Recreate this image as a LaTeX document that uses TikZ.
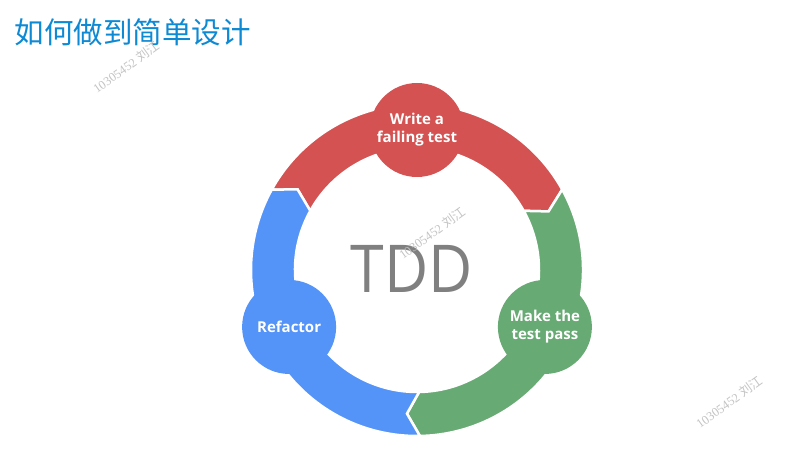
\documentclass[tikz,border=0pt]{standalone}
\usepackage{fontspec}
\setmainfont{Open Sans}
\newfontfamily\cjkfont{Noto Sans CJK SC}
\newfontfamily\wmfont{Liberation Serif}
\definecolor{tddred}{RGB}{212,82,82}
\definecolor{tddgreen}{RGB}{104,170,116}
\definecolor{tddblue}{RGB}{84,147,248}
\definecolor{tddgray}{RGB}{128,128,128}
\definecolor{titleblue}{RGB}{14,137,212}
\definecolor{wmgray}{RGB}{195,195,195}
\tikzset{
  segment/.style={draw=white, line width=2.5pt, line join=miter},
  stage/.style={circle, minimum size=94pt, inner sep=0pt, text=white,
    font=\bfseries\fontsize{15}{18}\selectfont, align=center},
  watermark/.style={text=wmgray, rotate=36, font=\wmfont\fontsize{12.5}{13}\selectfont, inner sep=0pt}
}
\begin{document}
\begin{tikzpicture}[x=1pt,y=1pt]
\useasboundingbox (0,0) rectangle (809,448);
\node[font=\cjkfont\fontsize{29.5}{32}\selectfont, text=titleblue] (title) at (133,416) {如何做到简单设计};
\begin{scope}[shift={(417,178)}]
\def\Ro{166}\def\Ri{122}\def\Rm{144}
% red: write failing test
\path[segment, fill=tddred] (151:\Ro) arc[start angle=151, end angle=29, radius=\Ro pt]
  -- (24:\Rm) -- (29:\Ri) arc[start angle=29, end angle=151, radius=\Ri pt] -- (146:\Rm) -- cycle;
% green: make the test pass
\path[segment, fill=tddgreen] (29:\Ro) arc[start angle=29, end angle=-89, radius=\Ro pt]
  -- (-94:\Rm) -- (-89:\Ri) arc[start angle=-89, end angle=29, radius=\Ri pt] -- (24:\Rm) -- cycle;
% blue: refactor
\path[segment, fill=tddblue] (271:\Ro) arc[start angle=271, end angle=151, radius=\Ro pt]
  -- (146:\Rm) -- (151:\Ri) arc[start angle=151, end angle=271, radius=\Ri pt] -- (266:\Rm) -- cycle;
\node[stage, fill=tddred] (write) at (90:140) {Write a\\failing test};
\node[stage, fill=tddgreen] (pass) at (-24:140) {Make the\\test pass};
\node[stage, fill=tddblue] (refactor) at (-156:140) {Refactor};
\end{scope}
\node[font=\fontsize{66}{66}\selectfont, text=tddgray, inner sep=0pt, xscale=0.92] (tdd) at (412,179) {TDD};
\node[watermark] (wm1) at (126,381) {10305452 {\cjkfont 刘江}};
\node[watermark] (wm2) at (432,215) {10305452 {\cjkfont 刘江}};
\node[watermark] (wm3) at (729,46) {10305452 {\cjkfont 刘江}};
\end{tikzpicture}
\end{document}
